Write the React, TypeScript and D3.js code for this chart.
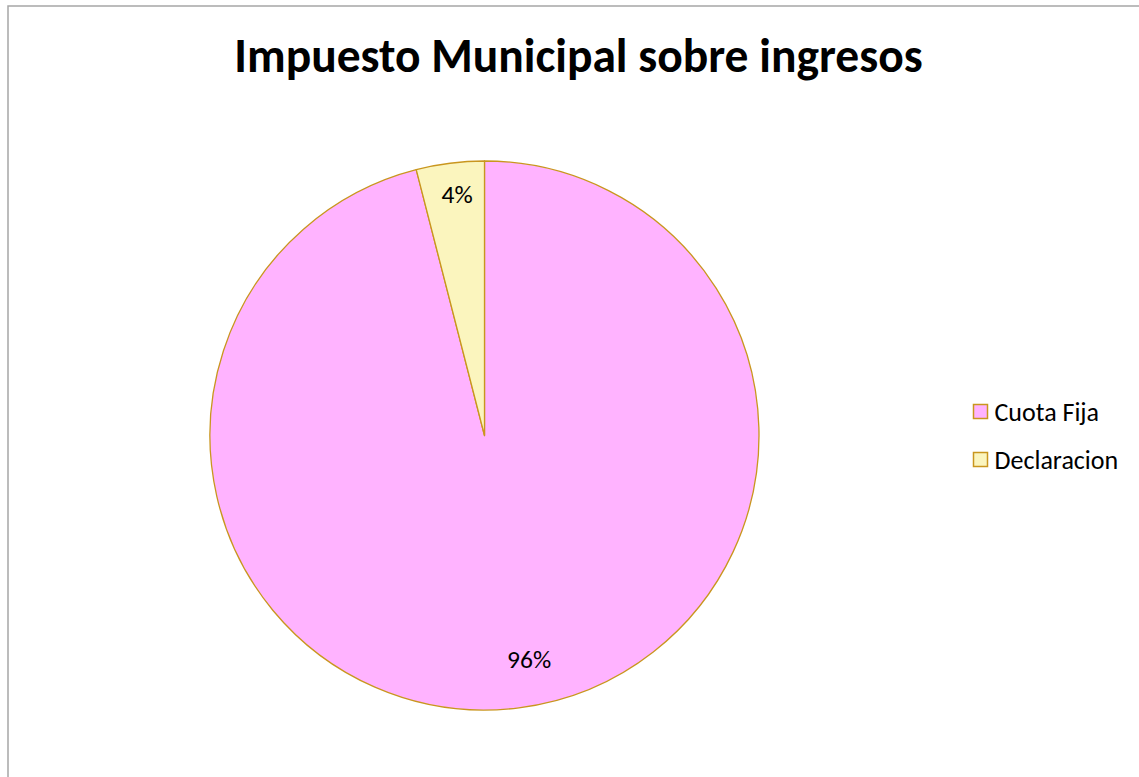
import React from "react";
import * as d3 from "d3";

const categories = ["Cuota Fija", "Declaracion"];
const values = [96, 4];
const labels = ["96%", "4%"];
const fills = ["#FFB3FF", "#FBF5BE"];
const title = "Impuesto Municipal sobre ingresos";

const W = 1139;
const H = 777;
const cx = 484.5;
const cy = 435.5;
const R = 274.5;
const stroke = "#C9961E";
const font = "Calibri, Carlito, 'Open Sans', 'Noto Sans', sans-serif";

export default function App() {
  const pie = d3.pie<number>().sort(null).value((d) => d)(values);
  const arc = d3.arc<d3.PieArcDatum<number>>().innerRadius(0).outerRadius(R);
  const labelR = [236, 242];
  const labelNudge = [[15, -10], [3, -1]];
  return (
    <svg width={W} height={H} style={{ position: "absolute", left: 0, top: 0, background: "#fff" }}>
      <rect x={8} y={6} width={W} height={H} fill="#fff" stroke="#A6A6A6" strokeWidth={1.5} />
      <text x={578.5} y={72} textAnchor="middle" fontFamily={font} fontWeight="bold" fontSize={47.5} fill="#000">
        {title}
      </text>
      <g transform={`translate(${cx},${cy})`}>
        {pie.map((p, i) => (
          <path key={i} d={arc(p) || ""} fill={fills[i]} stroke={stroke} strokeWidth={1.3} strokeLinejoin="round" />
        ))}
        {pie.map((p, i) => {
          const la = d3.arc<d3.PieArcDatum<number>>().innerRadius(labelR[i]).outerRadius(labelR[i]);
          const [x, y] = la.centroid(p);
          return (
            <text key={i} x={x + labelNudge[i][0]} y={y + labelNudge[i][1]} textAnchor="middle" dominantBaseline="central" fontFamily={font} fontSize={25.5} fill="#000">
              {labels[i]}
            </text>
          );
        })}
      </g>
      {categories.map((c, i) => (
        <g key={c} transform={`translate(973.5,${404.5 + i * 48})`}>
          <rect x={0} y={0} width={14} height={14} fill={fills[i]} stroke={stroke} strokeWidth={1.5} />
          <text x={21} y={7.5} dominantBaseline="central" fontFamily={font} fontSize={26} fill="#000">
            {c}
          </text>
        </g>
      ))}
    </svg>
  );
}
